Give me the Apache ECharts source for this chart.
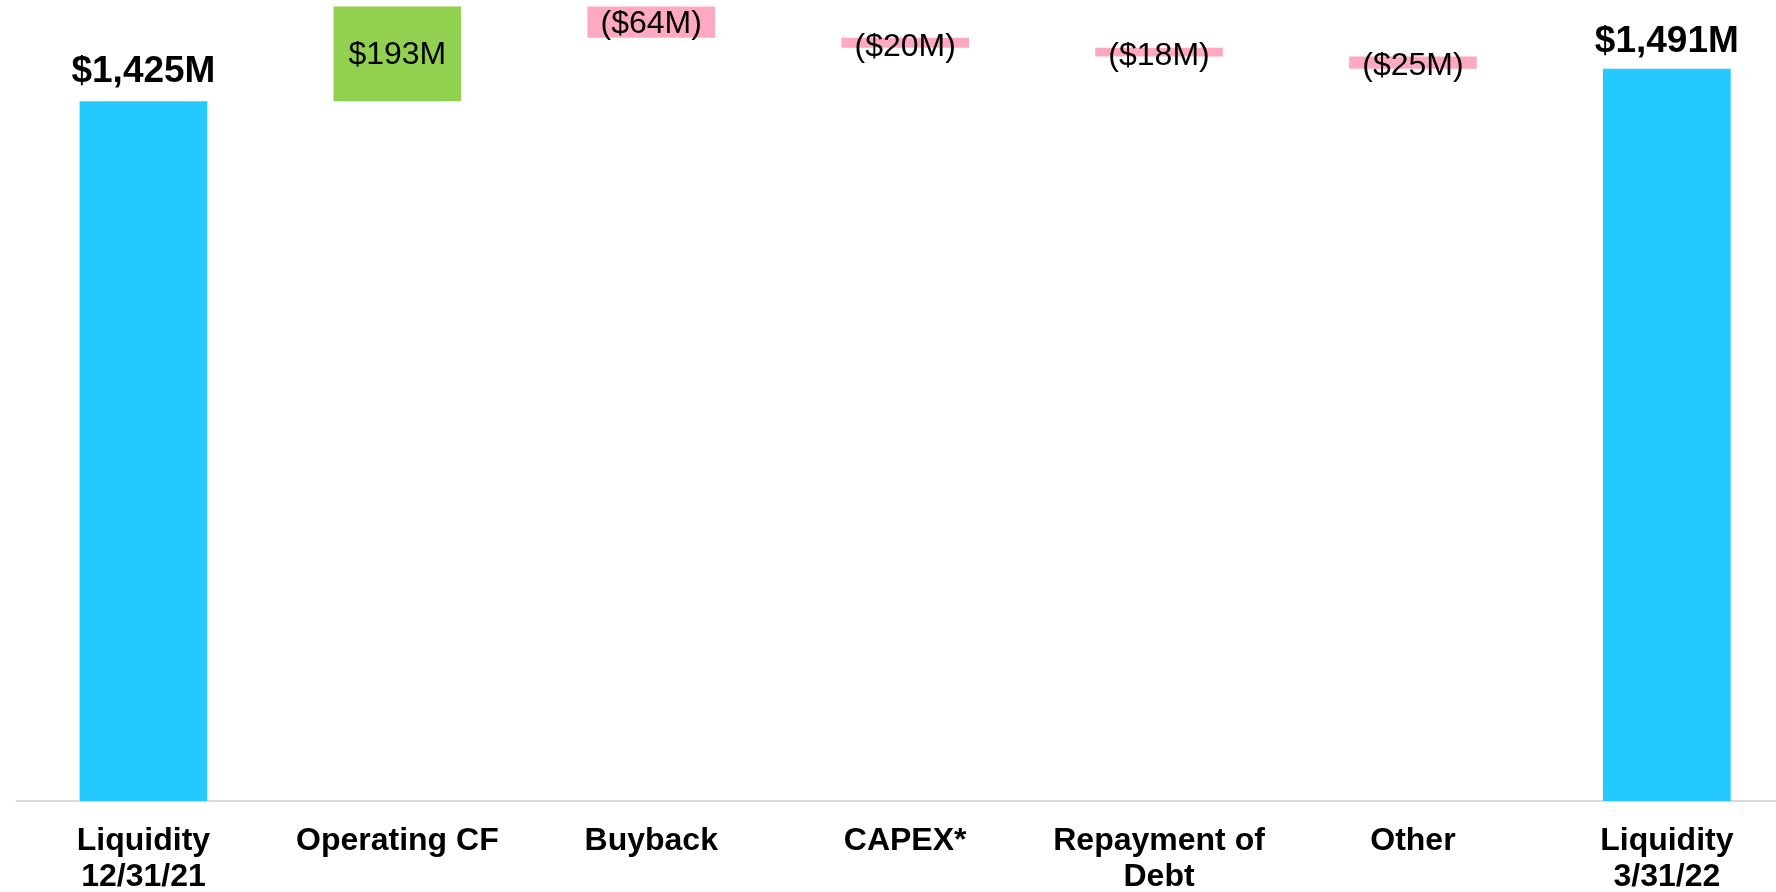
<!DOCTYPE html>
<html>
<head>
<meta charset="utf-8">
<script src="https://cdn.jsdelivr.net/npm/echarts@6/dist/echarts.min.js"></script>
<style>
html,body{margin:0;padding:0;background:#fff;}
#chart{width:1776px;height:892px;}
</style>
</head>
<body>
<div id="chart"></div>
<script>
const categories = ["Liquidity\n12/31/21", "Operating CF", "Buyback", "CAPEX*", "Repayment of\nDebt", "Other", "Liquidity\n3/31/22"];
const values = [1425, 193, -64, -20, -18, -25, 1491];
const kinds = ["total", "change", "change", "change", "change", "change", "total"];

const COLORS = { total: "#24caff", up: "#92d050", down: "#ffa8c2" };
const FONT = "'Liberation Sans', Arial, sans-serif";

function fmt(v) {
  const s = "$" + Math.abs(v).toLocaleString("en-US") + "M";
  return v < 0 ? "(" + s + ")" : s;
}

const baseData = [];
const barData = [];
let running = 0;
values.forEach((v, i) => {
  if (kinds[i] === "total") {
    baseData.push(0);
    barData.push({
      value: v,
      itemStyle: { color: COLORS.total },
      label: {
        show: true, position: "top", distance: i === 0 ? 11 : 8,
        formatter: fmt(v), fontSize: 37, fontWeight: "bold", color: "#000", fontFamily: FONT
      }
    });
    running = v;
  } else if (v >= 0) {
    baseData.push(running);
    barData.push({
      value: v,
      itemStyle: { color: COLORS.up },
      label: { show: true, position: "inside", offset: [0, 1], formatter: fmt(v), fontSize: 32, color: "#000", fontFamily: FONT }
    });
    running += v;
  } else {
    running += v;
    baseData.push(running);
    barData.push({
      value: -v,
      itemStyle: { color: COLORS.down },
      label: { show: true, position: "inside", offset: [0, i === 2 ? 2 : 4], formatter: fmt(v), fontSize: 32, color: "#000", fontFamily: FONT }
    });
  }
});

const chart = echarts.init(document.getElementById("chart"), null, { renderer: "canvas" });
chart.setOption({
  animation: false,
  backgroundColor: "#fff",
  grid: { left: 16.5, width: 1777.3, top: 0, height: 801, containLabel: false, outerBoundsMode: "none" },
  xAxis: {
    type: "category",
    data: categories,
    axisTick: { show: false },
    axisLine: { show: true, lineStyle: { color: "#d9d9d9", width: 2 } },
    axisLabel: {
      interval: 0, margin: 22, fontSize: 32, fontWeight: "bold", color: "#000",
      fontFamily: FONT, lineHeight: 36
    }
  },
  yAxis: {
    type: "value", min: 0, max: 1631, show: false, splitLine: { show: false }
  },
  series: [
    {
      type: "bar", stack: "wf", data: baseData, barWidth: "50.3%",
      itemStyle: { color: "transparent" }, silent: true
    },
    {
      type: "bar", stack: "wf", data: barData, barWidth: "50.3%"
    }
  ]
});
</script>
</body>
</html>
